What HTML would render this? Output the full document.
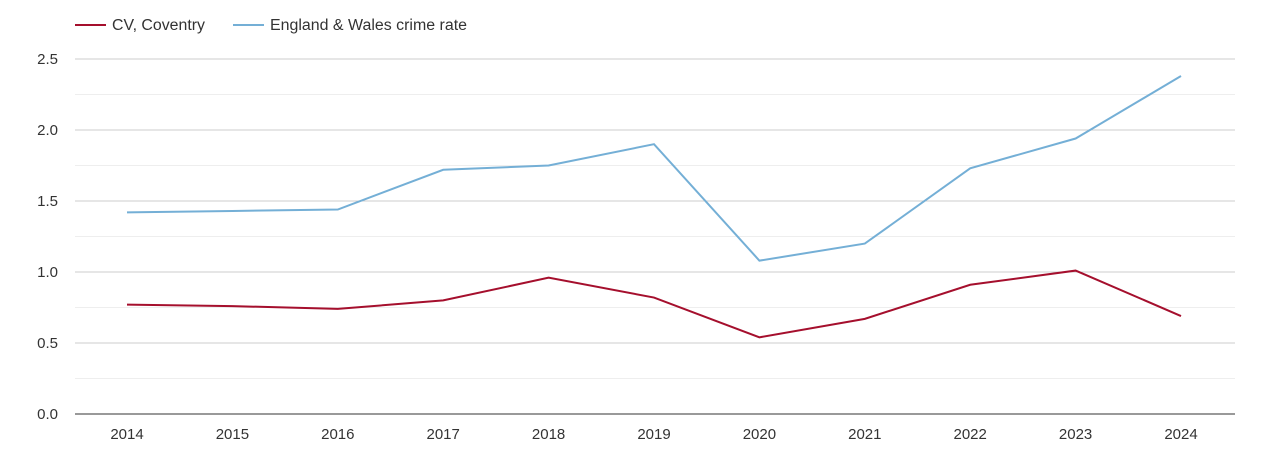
<!DOCTYPE html>
<html><head><meta charset="utf-8"><style>
body{margin:0;background:#fff;font-family:"Liberation Sans",sans-serif}
svg text{font-family:"Liberation Sans",sans-serif;fill:#333}
</style></head><body>
<svg id="chart" width="1270" height="450" xmlns="http://www.w3.org/2000/svg">
<g>
<g><line x1="75" y1="25" x2="106" y2="25" stroke="#a50f2d" stroke-width="2"/><text x="112" y="30" font-size="15.5" textLength="93" lengthAdjust="spacingAndGlyphs">CV, Coventry</text></g>
<g><line x1="233" y1="25" x2="264" y2="25" stroke="#74afd6" stroke-width="2"/><text x="270" y="30" font-size="15.5" textLength="197" lengthAdjust="spacingAndGlyphs">England &amp; Wales crime rate</text></g>
</g>
<g id="grid"></g>
<g id="yt"></g>
<g id="xt"></g>
<g id="series"></g>
</svg>
<script>
const years=["2014","2015","2016","2017","2018","2019","2020","2021","2022","2023","2024"];
const coventry=[0.77,0.76,0.74,0.80,0.96,0.82,0.54,0.67,0.91,1.01,0.69];
const englandWales=[1.42,1.43,1.44,1.72,1.75,1.90,1.08,1.20,1.73,1.94,2.38];
const yTicks=["0.0","0.5","1.0","1.5","2.0","2.5"];
const NS="http://www.w3.org/2000/svg";
const L=75,R=1235,Y0=414,Y1=59,ymax=2.5;
const x=i=>127+i*(1181-127)/(years.length-1);
const y=v=>Y0-(v/ymax)*(Y0-Y1);
function mk(t,a,p){const e=document.createElementNS(NS,t);for(const k in a)e.setAttribute(k,a[k]);p.appendChild(e);return e;}
const g=document.getElementById('grid');
for(let v=0;v<=ymax+1e-9;v+=0.25){
 const major=Math.abs(v*2-Math.round(v*2))<1e-9;
 const l=mk('line',{x1:L,x2:R,y1:y(v),y2:y(v),stroke:v===0?'#333':(major?'#ccc':'#eee'),'stroke-width':1},g);
 
 
}
const yt=document.getElementById('yt');
yTicks.forEach(s=>{const t=mk('text',{x:58,y:y(parseFloat(s))+5,'text-anchor':'end','font-size':15},yt);t.textContent=s;
 
 });
const xt=document.getElementById('xt');
years.forEach((s,i)=>{const t=mk('text',{x:x(i),y:439,'text-anchor':'middle','font-size':15},xt);t.textContent=s;
 
 });
const sg=document.getElementById('series');
[[englandWales,'#74afd6','england-wales-line'],[coventry,'#a50f2d','coventry-line']].forEach(([d,c,n])=>{
 const p=mk('polyline',{points:d.map((v,i)=>x(i)+','+y(v)).join(' '),fill:'none',stroke:c,'stroke-width':2},sg);
 
 
});
</script>
</body></html>
